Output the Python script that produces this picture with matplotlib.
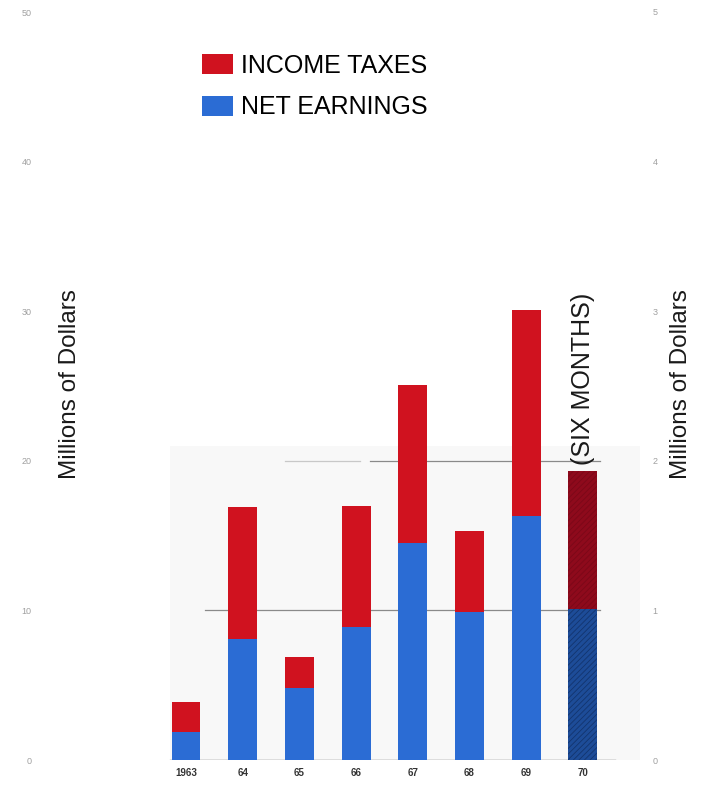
import matplotlib
matplotlib.use("Agg")
import matplotlib.pyplot as plt
from matplotlib.patches import Patch, Rectangle

plt.rcParams['font.family'] = ['Liberation Sans', 'DejaVu Sans']

years = ["1963", "64", "65", "66", "67", "68", "69", "70"]
net_earnings = [1.9, 8.1, 4.8, 8.9, 14.5, 9.9, 16.3, 10.1]
income_taxes = [2.0, 8.8, 2.1, 8.1, 10.6, 5.4, 13.8, 9.2]
left_ticks = [0, 10, 20, 30, 40, 50]
right_ticks = [0, 1, 2, 3, 4, 5]

red = "#d0121f"
blue = "#2b6cd4"
dark_red = "#8e0a1c"
dark_blue = "#1d4c98"

W, H = 702, 792
fig = plt.figure(figsize=(W / 100, H / 100), dpi=100)
L, R, B, T = 40, 640, 760, 12
ax = fig.add_axes([L / W, (H - B) / H, (R - L) / W, (B - T) / H])

c0, step = 186, 56.7
ax.set_xlim((L - c0) / step, (R - c0) / step)
ax.set_ylim(0, 50)

# faint background panel
ax.add_patch(Rectangle(((170 - L) / (R - L), 0), (R - 170) / (R - L), 21 / 50,
                       transform=ax.transAxes, facecolor="#f8f8f8",
                       edgecolor="none", zorder=0))

# rules
ax.axhline(10, xmin=(205 - L) / (R - L), xmax=(600 - L) / (R - L),
           color="#8a8a8a", lw=0.9, zorder=1)
ax.axhline(20, xmin=(370 - L) / (R - L), xmax=(600 - L) / (R - L),
           color="#8a8a8a", lw=0.9, zorder=1)
ax.axhline(20, xmin=(285 - L) / (R - L), xmax=(360 - L) / (R - L),
           color="#c8c8c8", lw=0.9, zorder=1)
ax.axhline(0, xmin=(170 - L) / (R - L), xmax=(615 - L) / (R - L),
           color="#707070", lw=1.0, zorder=1)

x = list(range(len(years)))
width = 0.51
fc_blue = [blue] * (len(years) - 1) + [dark_blue]
fc_red = [red] * (len(years) - 1) + [dark_red]
plt.rcParams['hatch.linewidth'] = 0.6
bars_b = ax.bar(x, net_earnings, width, color=fc_blue, linewidth=0, zorder=2)
bars_r = ax.bar(x, income_taxes, width, bottom=net_earnings, color=fc_red,
                linewidth=0, zorder=2)
bars_b[-1].set_hatch("//////")
bars_b[-1].set_edgecolor("#13346e")
bars_r[-1].set_hatch("//////")
bars_r[-1].set_edgecolor("#7a0818")

ax.text(x[-1], net_earnings[-1] + income_taxes[-1] + 0.4, "(SIX MONTHS)",
        rotation=90, ha="center", va="bottom", fontsize=18, color="#1a1a1a")

ax.set_xticks(x)
ax.set_xticklabels(years, fontsize=7, color="#333333", fontweight="bold")
ax.set_yticks(left_ticks)
ax.set_yticklabels([str(t) for t in left_ticks], fontsize=6.5, color="#a0a0a0")
ax.tick_params(axis="both", length=0)
ax.tick_params(axis="y", pad=6)
ax.tick_params(axis="x", pad=6)
for s in ax.spines.values():
    s.set_visible(False)

ax2 = ax.twinx()
ax2.set_ylim(0, 5)
ax2.set_yticks(right_ticks)
ax2.set_yticklabels([str(t) for t in right_ticks], fontsize=6.5, color="#a0a0a0")
ax2.tick_params(axis="y", length=0, pad=9)
for s in ax2.spines.values():
    s.set_visible(False)

fig.text(70 / W, 1 - 384 / H, "Millions of Dollars", rotation=90,
         ha="center", va="center", fontsize=17.5, color="#1a1a1a")
fig.text(681 / W, 1 - 384 / H, "Millions of Dollars", rotation=90,
         ha="center", va="center", fontsize=17.5, color="#1a1a1a")

handles = [Patch(facecolor=red, edgecolor="none"),
           Patch(facecolor=blue, edgecolor="none")]
fig.legend(handles, ["INCOME TAXES", "NET EARNINGS"], loc="upper left",
           bbox_to_anchor=(202 / W, 1 - 54 / H), frameon=False, fontsize=18,
           handlelength=1.25, handleheight=0.85, handletextpad=0.3,
           labelspacing=0.7, borderaxespad=0, borderpad=0)

fig.savefig("out.png", dpi=100, facecolor="white")
